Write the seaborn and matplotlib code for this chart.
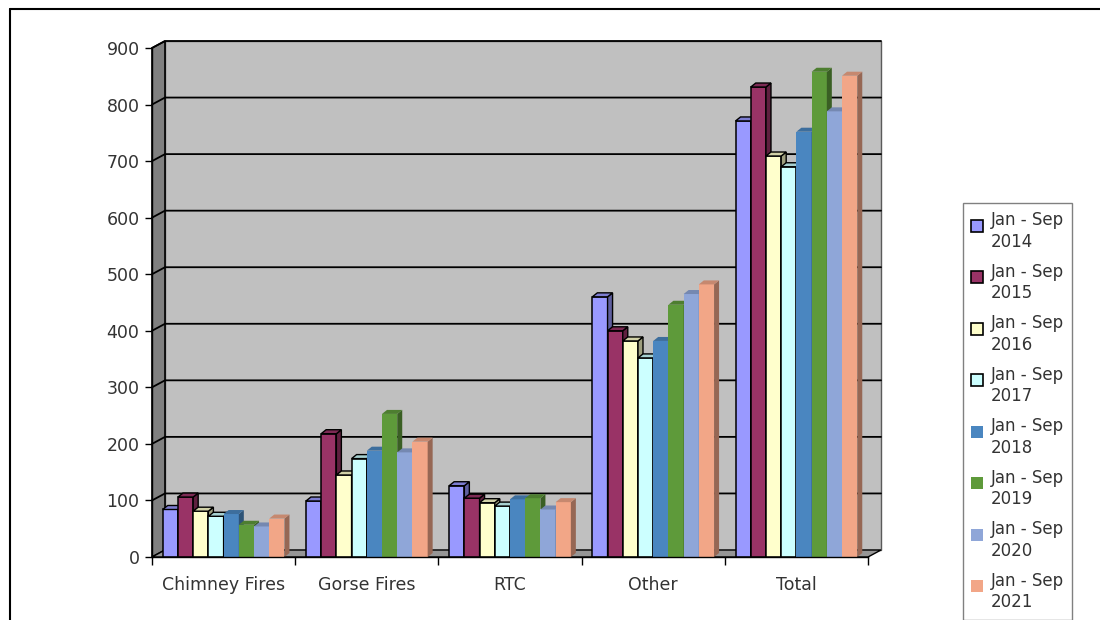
import numpy as np
import pandas as pd
import matplotlib
matplotlib.use("Agg")
import matplotlib.pyplot as plt
import seaborn as sns
from matplotlib.patches import Polygon, Patch, Rectangle
from matplotlib.lines import Line2D
from matplotlib.transforms import IdentityTransform
from matplotlib.legend_handler import HandlerPatch
import matplotlib.colors as mcolors

# ---------------- data ----------------
categories = ["Chimney Fires", "Gorse Fires", "RTC", "Other", "Total"]
years = ["2014", "2015", "2016", "2017", "2018", "2019", "2020", "2021"]
v2014 = [84, 99, 126, 460, 771]
v2015 = [106, 218, 104, 400, 831]
v2016 = [81, 145, 96, 382, 709]
v2017 = [72, 174, 90, 352, 690]
v2018 = [76, 188, 102, 382, 752]
v2019 = [57, 253, 104, 446, 858]
v2020 = [54, 185, 84, 465, 788]
v2021 = [68, 204, 97, 482, 851]
series = [v2014, v2015, v2016, v2017, v2018, v2019, v2020, v2021]
yticks = list(range(0, 1000, 100))

colors = ["#9999FF", "#993366", "#FFFFCC", "#CCFFFF",
          "#4A86C0", "#5E9A3A", "#8FA6D8", "#F2A687"]
edged = [True, True, True, True, False, False, False, False]

period_labels = [f"Jan - Sep\n{y}" for y in years]
rows = []
for lab, vals in zip(period_labels, series):
    for c, v in zip(categories, vals):
        rows.append({"Category": c, "Period": lab, "Value": v})
df = pd.DataFrame(rows)

# ---------------- style ----------------
sns.set_style("white")
plt.rcParams["font.family"] = ["DejaVu Sans"]

W, H = 1100, 620
fig = plt.figure(figsize=(W / 100, H / 100), dpi=100)
fig.patch.set_facecolor("white")
ax = fig.add_axes([152 / W, 63 / H, 716 / W, 509 / H])
ax.set_facecolor("none")

sns.barplot(data=df, x="Category", y="Value", hue="Period",
            order=categories, hue_order=period_labels, palette=colors,
            width=0.85, saturation=1, legend=False, ax=ax, errorbar=None)

ax.set_ylim(0, 900)
ax.set_xlim(-0.5, 4.5)
ax.set_xlabel("")
ax.set_ylabel("")
ax.set_yticks(yticks)
ax.set_yticklabels([str(t) for t in yticks])

for s in ["top", "right"]:
    ax.spines[s].set_visible(False)
for s in ["left", "bottom"]:
    ax.spines[s].set_color("black")
    ax.spines[s].set_linewidth(1.0)
    ax.spines[s].set_zorder(5)

ax.tick_params(axis="y", which="major", length=5, width=1, color="black",
               labelsize=12.5, labelcolor="#333333", pad=4, direction="out", left=True)
ax.set_xticks(np.arange(-0.5, 5, 1), minor=True)
ax.tick_params(axis="x", which="major", length=0, labelsize=12.5,
               labelcolor="#333333", pad=14)
ax.tick_params(axis="x", which="minor", length=6, width=1, color="black",
               direction="out", bottom=True)

# ---------------- pseudo 3D walls ----------------
DX, DY = 13, 7
fig.canvas.draw()
(p0x, p0y) = ax.transAxes.transform((0, 0))
(p1x, p1y) = ax.transAxes.transform((1, 1))
ident = IdentityTransform()

back = Polygon([(p0x + DX, p0y + DY), (p1x + DX, p0y + DY),
                (p1x + DX, p1y + DY), (p0x + DX, p1y + DY)], closed=True,
               facecolor="#C0C0C0", edgecolor="#5a5a5a", lw=1.0,
               transform=ident, clip_on=False, zorder=0.2)
ax.add_artist(back)
leftwall = Polygon([(p0x, p0y), (p0x + DX, p0y + DY), (p0x + DX, p1y + DY), (p0x, p1y)],
                   closed=True, facecolor="#808080", edgecolor="black", lw=1.2,
                   transform=ident, clip_on=False, zorder=0.3)
ax.add_artist(leftwall)
floor = Polygon([(p0x, p0y), (p1x, p0y), (p1x + DX, p0y + DY), (p0x + DX, p0y + DY)],
                closed=True, facecolor="#969696", edgecolor="black", lw=1.0,
                transform=ident, clip_on=False, zorder=0.3)
ax.add_artist(floor)

for v in yticks[1:]:
    yd = ax.transData.transform((0, v))[1]
    ax.add_artist(Line2D([p0x, p0x + DX, p1x + DX], [yd, yd + DY, yd + DY],
                         color="black", lw=1.3, transform=ident, clip_on=False,
                         zorder=0.4))

# ---------------- pseudo 3D bars ----------------
d_x, d_y = 5, 4
for i, cont in enumerate(ax.containers):
    base = mcolors.to_rgb(colors[i])
    side_c = tuple(c * 0.62 for c in base)
    top_c = tuple(c * 0.82 for c in base)
    ec = "black" if edged[i] else "none"
    for bar in cont:
        bar.set_zorder(2 + i * 0.1)
        bar.set_edgecolor(ec)
        bar.set_linewidth(1.1 if edged[i] else 0)
        bx, bw, bh = bar.get_x(), bar.get_width(), bar.get_height()
        x0, y0 = ax.transData.transform((bx, 0))
        x1, y1 = ax.transData.transform((bx + bw, bh))
        side = Polygon([(x1, y0), (x1 + d_x, y0 + d_y), (x1 + d_x, y1 + d_y), (x1, y1)],
                       closed=True, facecolor=side_c, edgecolor=ec,
                       lw=1.0 if edged[i] else 0, transform=ident,
                       clip_on=False, zorder=2 + i * 0.1 + 0.05)
        top = Polygon([(x0, y1), (x0 + d_x, y1 + d_y), (x1 + d_x, y1 + d_y), (x1, y1)],
                      closed=True, facecolor=top_c, edgecolor=ec,
                      lw=1.0 if edged[i] else 0, transform=ident,
                      clip_on=False, zorder=2 + i * 0.1 + 0.05)
        ax.add_artist(side)
        ax.add_artist(top)


# ---------------- legend ----------------
class TopSquare(HandlerPatch):
    def create_artists(self, legend, orig_handle, xdescent, ydescent,
                       width, height, fontsize, trans):
        sq = 0.7 * fontsize
        r = Rectangle((-xdescent, -ydescent + height - sq), sq, sq,
                      facecolor=orig_handle.get_facecolor(),
                      edgecolor=orig_handle.get_edgecolor(),
                      lw=orig_handle.get_linewidth())
        r.set_transform(trans)
        return [r]


handles = [Patch(facecolor=c, edgecolor=("black" if e else c), lw=(1.2 if e else 0))
           for c, e in zip(colors, edged)]
leg = fig.legend(handles=handles, labels=period_labels, loc="upper left",
                 bbox_to_anchor=(963 / W, 1 - 203 / H), frameon=True,
                 fancybox=False, edgecolor="#808080", framealpha=1,
                 handlelength=0.85, handleheight=2.0, handletextpad=0.3,
                 labelspacing=0.72, borderpad=0.5, borderaxespad=0,
                 fontsize=12, handler_map={Patch: TopSquare()})
leg.get_frame().set_linewidth(1.0)
for t in leg.get_texts():
    t.set_color("#333333")
    t.set_linespacing(1.25)

# ---------------- outer frame ----------------
fig.add_artist(Line2D([10 / W, 1], [1 - 9 / H, 1 - 9 / H], transform=fig.transFigure,
                      color="black", lw=1.5))
fig.add_artist(Line2D([10 / W, 10 / W], [0, 1 - 9 / H], transform=fig.transFigure,
                      color="black", lw=1.5))

fig.savefig("out.png", dpi=100)
